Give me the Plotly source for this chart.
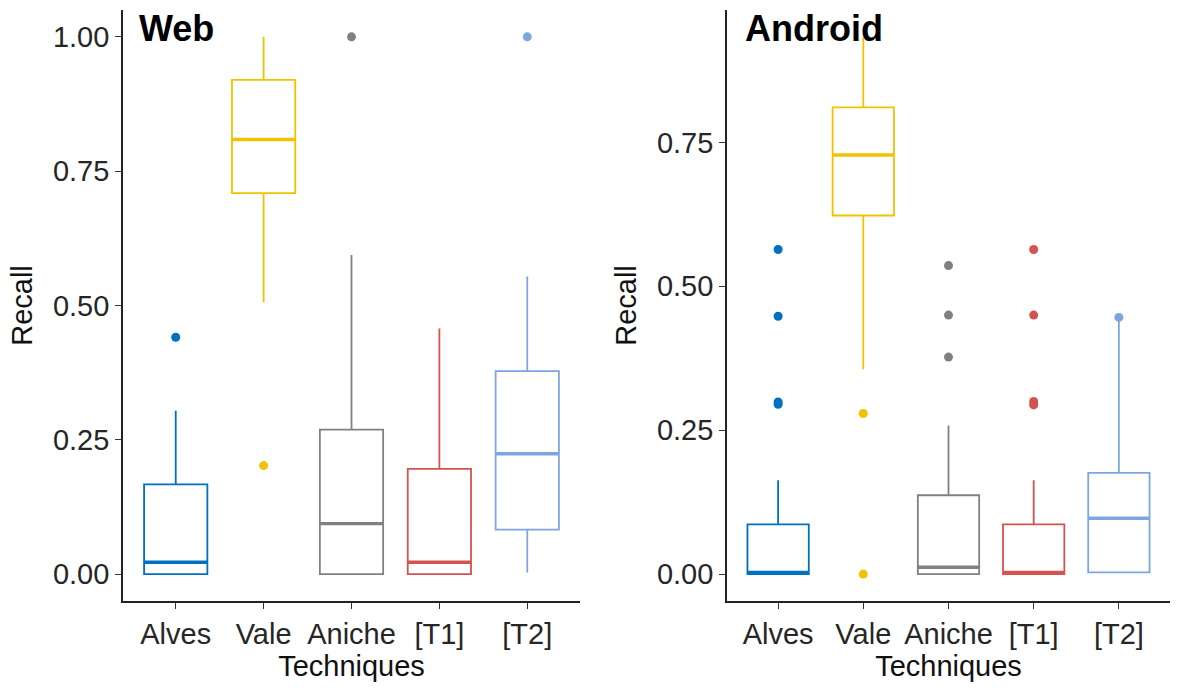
import plotly.graph_objects as go

categories = ["Alves", "Vale", "Aniche", "[T1]", "[T2]"]
colors = ["#0070C0", "#F2C200", "#808080", "#D2534F", "#7BA7E1"]

# Web panel statistics
web_q1 = [0.0, 0.709, 0.0, 0.0, 0.083]
web_median = [0.022, 0.809, 0.094, 0.022, 0.224]
web_q3 = [0.167, 0.920, 0.269, 0.196, 0.378]
web_low = [0.0, 0.506, 0.0, 0.0, 0.003]
web_high = [0.304, 1.0, 0.594, 0.457, 0.554]
web_outliers = [[0.441], [0.202], [1.0], [], [1.0]]

# Android panel statistics
and_q1 = [0.0, 0.623, 0.0, 0.0, 0.003]
and_median = [0.003, 0.728, 0.012, 0.003, 0.097]
and_q3 = [0.0865, 0.811, 0.137, 0.0865, 0.176]
and_low = [0.0, 0.356, 0.0, 0.0, 0.003]
and_high = [0.163, 0.933, 0.258, 0.163, 0.446]
and_outliers = [[0.564, 0.448, 0.299, 0.295], [0.279, 0.0], [0.536, 0.45, 0.377],
                [0.564, 0.45, 0.300, 0.294], [0.446]]

BOX_W = 0.72
FONT = "Liberation Sans, Arial, sans-serif"

fig = go.Figure()


def add_panel(q1, med, q3, low, high, outl, xa, ya):
    for i, cat in enumerate(categories):
        c = colors[i]
        fig.add_trace(go.Box(
            x=[i], q1=[q1[i]], median=[med[i]], q3=[q3[i]],
            lowerfence=[low[i]], upperfence=[high[i]],
            width=BOX_W, whiskerwidth=0, boxpoints=False,
            line=dict(color=c, width=1.8), fillcolor="white",
            xaxis=xa, yaxis=ya, showlegend=False, name=cat,
        ))
        # thicker median line
        fig.add_trace(go.Scatter(
            x=[i - BOX_W / 2, i + BOX_W / 2], y=[med[i], med[i]],
            mode="lines", line=dict(color=c, width=3.4),
            xaxis=xa, yaxis=ya, showlegend=False, hoverinfo="skip",
        ))
        if outl[i]:
            fig.add_trace(go.Scatter(
                x=[i] * len(outl[i]), y=outl[i], mode="markers",
                marker=dict(color=c, size=9),
                xaxis=xa, yaxis=ya, showlegend=False,
            ))


add_panel(web_q1, web_median, web_q3, web_low, web_high, web_outliers, "x", "y")
add_panel(and_q1, and_median, and_q3, and_low, and_high, and_outliers, "x2", "y2")

W, H = 1180, 690
ydom = [(H - 601) / H, (H - 10) / H]
TXT = "#262626"

xcommon = dict(
    tickmode="array", tickvals=list(range(len(categories))), ticktext=categories,
    range=[-0.6, len(categories) - 0.4], showline=True, linecolor="#222",
    linewidth=1.6, ticks="outside", ticklen=6, tickwidth=1.4, tickcolor="#333",
    showgrid=False, zeroline=False,
    tickfont=dict(size=29, color=TXT, family=FONT),
    title=dict(text="Techniques", font=dict(size=29, color="#111", family=FONT), standoff=5),
)
ycommon = dict(
    showline=True, linecolor="#222", linewidth=1.6, ticks="outside", ticklen=6,
    tickwidth=1.4, tickcolor="#333", showgrid=False, zeroline=False,
    tickformat=".2f", tickfont=dict(size=29, color=TXT, family=FONT),
    title=dict(text="Recall", font=dict(size=29, color="#111", family=FONT), standoff=12),
)

fig.update_layout(
    width=W, height=H,
    margin=dict(l=0, r=0, t=0, b=0),
    plot_bgcolor="white", paper_bgcolor="white",
    xaxis=dict(domain=[123 / W, 580 / W], anchor="y", **xcommon),
    yaxis=dict(domain=ydom, anchor="x", range=[-0.05, 1.05],
               tickvals=[0, 0.25, 0.5, 0.75, 1.0], **ycommon),
    xaxis2=dict(domain=[727 / W, 1170 / W], anchor="y2", **xcommon),
    yaxis2=dict(domain=ydom, anchor="x2", range=[-0.0467, 0.98],
                tickvals=[0, 0.25, 0.5, 0.75], **ycommon),
    annotations=[
        dict(text="<b>Web</b>", x=137 / W, y=(H - 28) / H, xref="paper", yref="paper",
             xanchor="left", yanchor="middle", showarrow=False,
             font=dict(size=36, color="black", family=FONT)),
        dict(text="<b>Android</b>", x=743 / W, y=(H - 28) / H, xref="paper", yref="paper",
             xanchor="left", yanchor="middle", showarrow=False,
             font=dict(size=36, color="black", family=FONT)),
    ],
)

fig.write_html("out.html")
